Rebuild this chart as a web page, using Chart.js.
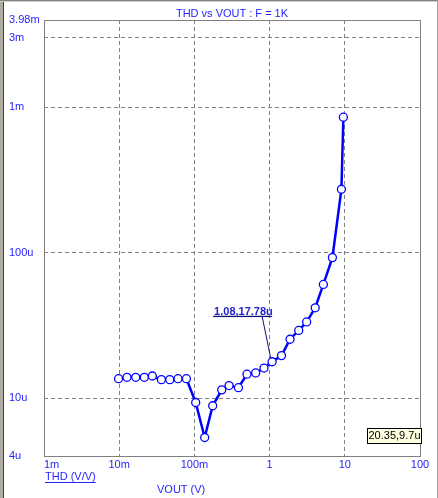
<!DOCTYPE html>
<html>
<head>
<meta charset="utf-8">
<title>THD vs VOUT</title>
<script src="https://cdn.jsdelivr.net/npm/chart.js@4.4.1/dist/chart.umd.min.js"></script>
<style>
  html, body { margin: 0; padding: 0; background: #fff; }
  #wrap { width: 438px; height: 498px; }
</style>
</head>
<body>
<div id="wrap"><canvas id="thdChart" width="438" height="498"></canvas></div>
<script>
// sweep values
const vout = [0.0098, 0.0127, 0.0166, 0.0216, 0.0276, 0.0364, 0.047, 0.0606, 0.0783, 0.104,
              0.137, 0.175, 0.231, 0.289, 0.385, 0.50, 0.653, 0.843, 1.08, 1.44,
              1.87, 2.44, 3.11, 4.04, 5.19, 6.84, 9.02, 9.57];
const thd = [13.6e-6, 13.9e-6, 13.9e-6, 13.9e-6, 14.2e-6, 13.4e-6, 13.4e-6, 13.6e-6, 13.6e-6, 9.33e-6,
             5.36e-6, 8.86e-6, 11.4e-6, 12.2e-6, 11.8e-6, 14.6e-6, 14.9e-6, 16.1e-6, 17.78e-6, 19.6e-6,
             25.4e-6, 29.2e-6, 33.4e-6, 41.8e-6, 60.5e-6, 92.5e-6, 273e-6, 854e-6];

const xTicks = [1e-3, 1e-2, 1e-1, 1, 10, 100];
const xTickLabels = ['     1m', '10m', '100m', '1', '10', '100'];
const yTicks = [4e-6, 1e-5, 1e-4, 1e-3, 3e-3, 3.98e-3];
const yTickLabels = ['4u', '10u', '100u', '1m', '3m', '3.98m'];

const titleText = 'THD vs VOUT : F = 1K';
const traceName = 'THD (V/V)';
const xTitle = 'VOUT (V)';
const marker = { x: 1.08, y: 17.78e-6, label: '1.08,17.78u' };
const cursorText = '20.35,9.7u';

const blue = '#2525ff';
const font11 = { family: 'Liberation Sans, Arial, sans-serif', size: 11 };

const edgeGrid = (ctx, list) => {
    const v = ctx.tick ? ctx.tick.value : null;
    return (v === list[0] || v === list[list.length - 1]) ? 'rgba(0,0,0,0)' : '#808080';
};

const decorations = {
    id: 'decorations',
    beforeDatasetsDraw(chart) {
        const { ctx, chartArea: a } = chart;
        ctx.save();
        ctx.strokeStyle = '#808080';
        ctx.lineWidth = 1;
        ctx.strokeRect(Math.round(a.left) + 0.5, Math.round(a.top) + 0.5,
                       Math.round(a.right - a.left), Math.round(a.bottom - a.top));
        ctx.restore();
    },
    afterDraw(chart) {
        const { ctx, chartArea: a, scales } = chart;
        ctx.save();

        // window frame
        ctx.fillStyle = '#b0aca4';
        ctx.fillRect(0, 0, 3, 498);
        ctx.fillStyle = '#404040';
        ctx.fillRect(3, 0, 1, 498);
        ctx.fillStyle = '#808080';
        ctx.fillRect(0, 0, 438, 1);
        ctx.fillStyle = '#d4d0c8';
        ctx.fillRect(0, 1, 438, 1);
        ctx.fillStyle = '#a0a0a0';
        ctx.fillRect(437, 0, 1, 498);

        ctx.font = '11px Liberation Sans, Arial, sans-serif';
        ctx.fillStyle = blue;
        ctx.textBaseline = 'middle';

        // title
        ctx.textAlign = 'center';
        ctx.fillText(titleText, (a.left + a.right) / 2, 14);

        // trace name (underlined) and x axis title
        ctx.textAlign = 'left';
        ctx.fillText(traceName, a.left + 1, 477);
        const tw = ctx.measureText(traceName).width;
        ctx.fillRect(a.left + 1, 482, tw, 1);
        ctx.fillText(xTitle, 157, 490);

        // marker annotation
        const px = scales.x.getPixelForValue(marker.x);
        const py = scales.y.getPixelForValue(marker.y);
        ctx.font = 'bold 11px Liberation Sans, Arial, sans-serif';
        ctx.fillStyle = '#2222cc';
        ctx.textBaseline = 'alphabetic';
        ctx.fillText(marker.label, px - 58, py - 47);
        ctx.fillStyle = '#10107a';
        ctx.fillRect(px - 59, py - 46, 59, 1.3);
        ctx.strokeStyle = '#10107a';
        ctx.lineWidth = 1;
        ctx.beginPath();
        ctx.moveTo(px - 10, py - 45.5);
        ctx.lineTo(px - 1.5, py - 4);
        ctx.stroke();

        // cursor read-out box
        ctx.fillStyle = '#ffffe1';
        ctx.fillRect(367.5, 428.5, 54, 15);
        ctx.strokeStyle = '#000';
        ctx.strokeRect(367.5, 428.5, 54, 15);
        ctx.font = '11px Liberation Sans, Arial, sans-serif';
        ctx.fillStyle = '#000';
        ctx.textAlign = 'center';
        ctx.textBaseline = 'middle';
        ctx.fillText(cursorText, 394.5, 436);

        ctx.restore();
    }
};

new Chart(document.getElementById('thdChart'), {
    type: 'scatter',
    data: {
        datasets: [{
            label: traceName,
            data: vout.map((v, i) => ({ x: v, y: thd[i] })),
            showLine: true,
            borderColor: '#0000ff',
            borderWidth: 2.5,
            pointRadius: 4,
            pointBackgroundColor: '#ffffff',
            pointBorderColor: '#0000ff',
            pointBorderWidth: 1.3,
            tension: 0
        }]
    },
    options: {
        responsive: false,
        animation: false,
        devicePixelRatio: 1,
        layout: { padding: { left: 9, right: 18, top: 20, bottom: 12 } },
        plugins: {
            legend: { display: false },
            tooltip: { enabled: false },
            title: { display: false }
        },
        scales: {
            x: {
                type: 'logarithmic',
                min: 1e-3,
                max: 100,
                afterBuildTicks: s => { s.ticks = xTicks.map(v => ({ value: v })); },
                afterFit: s => { s.height = 30; },
                ticks: {
                    autoSkip: false,
                    maxRotation: 0,
                    padding: 2,
                    color: blue,
                    font: font11,
                    callback: v => xTickLabels[xTicks.indexOf(v)]
                },
                grid: { color: c => edgeGrid(c, xTicks), drawTicks: false, lineWidth: 1 },
                border: { display: false, dash: [4, 3] }
            },
            y: {
                type: 'logarithmic',
                min: 4e-6,
                max: 3.98e-3,
                afterBuildTicks: s => { s.ticks = yTicks.map(v => ({ value: v })); },
                afterFit: s => { s.width = 35; },
                ticks: {
                    autoSkip: false,
                    crossAlign: 'far',
                    color: blue,
                    font: font11,
                    callback: v => yTickLabels[yTicks.indexOf(v)]
                },
                grid: { color: c => edgeGrid(c, yTicks), drawTicks: false, lineWidth: 1 },
                border: { display: false, dash: [4, 3] }
            }
        }
    },
    plugins: [decorations]
});
</script>
</body>
</html>
